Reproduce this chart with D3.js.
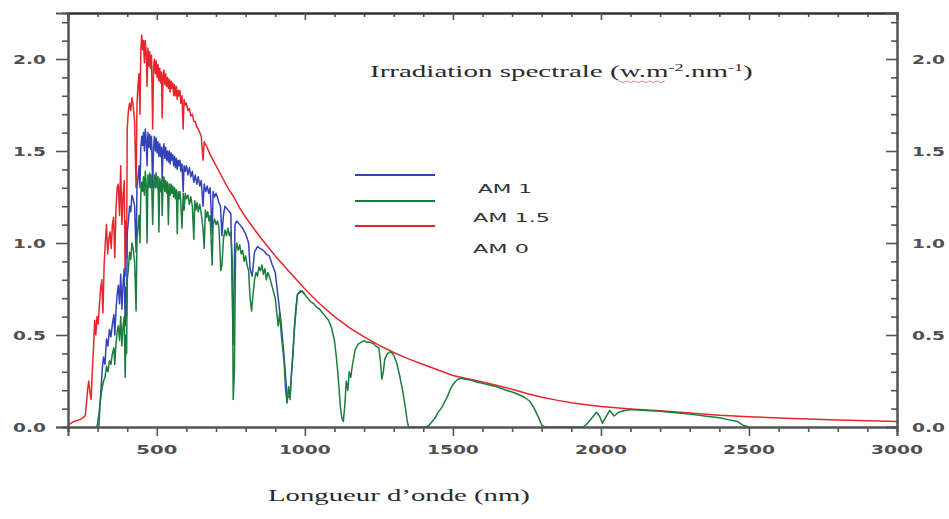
<!DOCTYPE html>
<html>
<head>
<meta charset="utf-8">
<script src="https://cdn.jsdelivr.net/npm/d3@7"></script>
<style>
  html, body { margin: 0; padding: 0; background: #fff; }
  svg { display: block; }
</style>
</head>
<body>
<svg id="chart" width="949" height="519"></svg>
<script>
// ---------------- DATA ----------------
const xMajorTicks = [500, 1000, 1500, 2000, 2500, 3000];
const yMajorTicks = [0, 0.5, 1.0, 1.5, 2.0];
const seriesNames = ["AM 1", "AM 1.5", "AM 0"];
const titleText = "Irradiation spectrale";
const xLabelText = "Longueur d\u2019onde (nm)";

// AM 0 (red) : [wavelength nm, irradiance W.m-2.nm-1]
const am0 = [
 [200,0.01],[220,0.03],[240,0.04],[250,0.05],[258,0.06],[262,0.12],[266,0.2],[270,0.25],[274,0.19],[278,0.15],
 [282,0.3],[286,0.42],[290,0.58],[294,0.5],[298,0.6],[302,0.56],[306,0.66],[310,0.75],[314,0.8],[318,0.62],
 [322,0.88],[326,1.0],[330,1.1],[334,0.94],[338,1.02],[342,1.06],[346,0.97],[350,1.1],[354,1.14],[358,0.92],
 [362,1.18],[366,1.3],[370,1.32],[374,1.15],[378,1.42],[382,1.1],[386,1.26],[390,1.34],[393,0.82],[396,1.12],
 [398,0.92],[400,1.62],[404,1.72],[408,1.76],[412,1.72],[416,1.79],[420,1.75],[425,1.66],[430,1.3],[433,1.75],
 [436,1.85],[440,1.92],[443,1.7],[446,2.05],[449,2.13],[452,2.05],[455,2.1],[458,1.98],[461,2.1],[464,2.04],
 [467,1.85],[470,2.06],[473,1.96],[476,2.04],[479,1.95],[482,2.02],[486,1.62],[489,1.96],[492,2.0],[495,1.92],
 [498,1.99],[501,1.9],[504,1.97],[507,1.88],[510,1.95],[513,1.87],[516,1.93],[518,1.68],[521,1.9],[524,1.94],
 [527,1.86],[530,1.92],[533,1.85],[536,1.9],[539,1.84],[542,1.89],[545,1.82],[548,1.88],[551,1.84],[554,1.87],
 [557,1.8],[560,1.86],[563,1.8],[566,1.85],[569,1.78],[572,1.83],[575,1.8],[578,1.83],[581,1.76],[585,1.8],
 [589,1.62],[592,1.78],[596,1.75],[600,1.76],[605,1.72],[610,1.73],[615,1.69],[620,1.7],[625,1.66],[630,1.66],
 [635,1.63],[640,1.62],[645,1.6],[650,1.58],[656,1.45],[660,1.55],[670,1.52],[680,1.48],[690,1.45],[700,1.42],
 [720,1.36],[740,1.3],[760,1.25],[780,1.19],[800,1.14],[850,1.03],[900,0.93],[950,0.84],[1000,0.75],[1050,0.67],
 [1100,0.6],[1150,0.54],[1200,0.49],[1250,0.445],[1300,0.405],[1350,0.37],[1400,0.34],[1450,0.31],[1500,0.28],[1550,0.262],
 [1600,0.244],[1650,0.225],[1700,0.205],[1750,0.182],[1800,0.162],[1850,0.146],[1900,0.132],[1950,0.121],[2000,0.111],[2100,0.098],
 [2200,0.088],[2300,0.076],[2400,0.064],[2500,0.056],[2600,0.049],[2700,0.043],[2800,0.038],[2900,0.034],[3000,0.03]
];

// AM 1 (blue)
const am1 = [
 [304,0.0],[308,0.12],[312,0.22],[316,0.32],[320,0.38],[325,0.34],[330,0.48],[335,0.44],[340,0.53],[345,0.49],
 [350,0.56],[355,0.61],[358,0.5],[362,0.63],[366,0.72],[370,0.77],[374,0.67],[378,0.83],[382,0.64],[386,0.78],
 [390,0.86],[393,0.55],[396,0.76],[398,0.6],[400,1.05],[404,1.12],[408,1.2],[412,1.17],[416,1.26],[420,1.24],
 [425,1.2],[430,0.95],[433,1.3],[436,1.35],[440,1.42],[443,1.3],[446,1.52],[449,1.58],[452,1.53],[455,1.6],
 [458,1.5],[461,1.62],[464,1.56],[467,1.42],[470,1.6],[473,1.52],[476,1.59],[479,1.51],[482,1.58],[486,1.3],
 [489,1.52],[492,1.58],[495,1.5],[498,1.57],[501,1.49],[504,1.55],[507,1.47],[510,1.54],[513,1.47],[516,1.52],
 [518,1.34],[521,1.5],[524,1.54],[527,1.46],[530,1.52],[533,1.45],[536,1.5],[539,1.44],[542,1.5],[545,1.43],
 [548,1.49],[551,1.45],[554,1.48],[557,1.42],[560,1.47],[563,1.41],[566,1.46],[569,1.4],[572,1.45],[575,1.42],
 [578,1.45],[581,1.39],[585,1.43],[589,1.28],[592,1.42],[596,1.39],[600,1.42],[605,1.37],[610,1.41],[615,1.36],
 [620,1.39],[625,1.33],[630,1.37],[635,1.32],[640,1.36],[645,1.31],[650,1.34],[656,1.2],[660,1.32],[665,1.28],
 [670,1.31],[675,1.27],[680,1.3],[687,1.05],[690,1.28],[695,1.25],[700,1.27],[710,1.22],[715,1.2],[720,1.04],
 [725,1.15],[730,1.2],[740,1.18],[750,1.16],[758,0.45],[764,1.1],[770,1.12],[780,1.1],[790,1.08],[800,1.05],
 [810,1.0],[815,0.86],[822,0.82],[830,0.95],[840,0.98],[850,0.97],[860,0.96],[870,0.94],[880,0.93],[890,0.88],
 [900,0.84],[910,0.7],[920,0.56],[930,0.38],[940,0.16],[950,0.17],[958,0.36],[966,0.56],[975,0.72],[990,0.74],
 [1000,0.72]
];

// AM 1.5 (green)
const am15 = [
 [297,0.0],[300,0.02],[305,0.08],[310,0.15],[315,0.21],[320,0.25],[325,0.27],[330,0.33],[335,0.3],[340,0.36],
 [345,0.34],[350,0.4],[355,0.43],[358,0.34],[362,0.45],[366,0.52],[370,0.55],[374,0.47],[378,0.6],[382,0.44],
 [386,0.55],[390,0.6],[393,0.27],[396,0.5],[398,0.4],[400,0.8],[404,0.86],[408,0.95],[412,0.91],[416,1.0],
 [420,0.97],[425,0.9],[430,0.63],[433,1.02],[436,1.08],[440,1.15],[443,1.0],[446,1.27],[449,1.33],[452,1.28],
 [455,1.36],[458,1.26],[461,1.39],[464,1.32],[467,1.0],[470,1.37],[473,1.3],[476,1.38],[479,1.3],[482,1.37],
 [486,1.1],[489,1.3],[492,1.37],[495,1.3],[498,1.38],[501,1.3],[504,1.36],[507,1.06],[510,1.35],[513,1.28],
 [516,1.34],[518,1.15],[521,1.32],[524,1.36],[527,1.28],[530,1.34],[533,1.27],[536,1.33],[539,1.1],[542,1.32],
 [545,1.26],[548,1.32],[551,1.27],[554,1.31],[557,1.25],[560,1.3],[563,1.24],[566,1.29],[569,1.05],[572,1.28],
 [575,1.24],[578,1.28],[581,1.22],[585,1.08],[589,1.27],[592,1.18],[596,1.27],[600,1.24],[605,1.26],[610,1.21],
 [615,1.25],[620,1.2],[625,1.02],[628,1.23],[632,1.18],[636,1.22],[640,1.17],[645,1.21],[650,1.16],[656,1.08],
 [660,0.97],[664,1.18],[668,1.14],[672,1.17],[676,1.12],[680,1.15],[687,0.88],[690,1.1],[695,1.13],[700,1.1],
 [705,1.12],[710,1.08],[716,0.85],[720,0.88],[725,1.02],[730,1.07],[735,1.04],[740,1.08],[745,1.04],[750,1.06],
 [755,0.9],[758,0.15],[762,0.3],[766,0.95],[770,1.0],[775,0.96],[780,0.99],[785,0.94],[790,0.96],[795,0.9],
 [800,0.93],[805,0.88],[810,0.85],[815,0.7],[820,0.63],[825,0.72],[830,0.8],[835,0.84],[840,0.82],[845,0.87],
 [850,0.85],[855,0.88],[860,0.83],[865,0.86],[870,0.8],[875,0.84],[880,0.82],[885,0.79],[890,0.76],[900,0.7],
 [910,0.55],[915,0.62],[920,0.51],[930,0.35],[935,0.2],[940,0.13],[945,0.22],[950,0.15],[955,0.3],[960,0.4],
 [965,0.55],[970,0.65],[975,0.72],[985,0.74],[995,0.73],[1000,0.72],[1010,0.7],[1020,0.68],[1030,0.67],[1040,0.65],
 [1050,0.64],[1060,0.62],[1070,0.6],[1080,0.58],[1090,0.54],[1100,0.47],[1105,0.4],[1110,0.32],[1115,0.22],[1120,0.11],
 [1125,0.05],[1130,0.03],[1135,0.12],[1140,0.25],[1145,0.2],[1150,0.3],[1155,0.27],[1160,0.33],[1170,0.42],[1180,0.45],
 [1190,0.46],[1200,0.47],[1210,0.46],[1220,0.46],[1230,0.455],[1240,0.44],[1250,0.43],[1255,0.36],[1260,0.26],[1265,0.3],
 [1270,0.37],[1280,0.4],[1290,0.41],[1300,0.39],[1310,0.35],[1320,0.28],[1330,0.2],[1340,0.1],[1345,0.04],[1350,0.0],
 [1410,0.0],[1420,0.01],[1430,0.03],[1440,0.05],[1450,0.08],[1460,0.1],[1470,0.13],[1480,0.16],[1490,0.2],[1500,0.23],
 [1510,0.25],[1520,0.262],[1530,0.265],[1540,0.26],[1560,0.255],[1580,0.245],[1600,0.237],[1620,0.23],[1640,0.222],[1660,0.212],
 [1680,0.2],[1700,0.19],[1720,0.178],[1740,0.163],[1760,0.14],[1775,0.1],[1790,0.05],[1800,0.01],[1810,0.0],[1940,0.0],
 [1955,0.02],[1970,0.05],[1985,0.08],[1995,0.06],[2005,0.02],[2015,0.05],[2030,0.09],[2045,0.06],[2060,0.08],[2080,0.09],
 [2100,0.095],[2150,0.09],[2200,0.085],[2250,0.078],[2300,0.07],[2350,0.06],[2400,0.05],[2430,0.04],[2460,0.03],[2480,0.01],
 [2500,0.0]
];

// ---------------- CHART ----------------
const svg = d3.select("#chart");
const L = 68, R = 897, T = 13, B = 427;
const x = d3.scaleLinear().domain([200, 3000]).range([L, R]);
const y = d3.scaleLinear().domain([0, 2.25]).range([B, T]);
const axisColor = "#555";
const labelColor = "#4f4f4f";

const xMinor = d3.range(200, 3001, 100).filter(v => !xMajorTicks.includes(v));
const yMinor = d3.range(0, 23).map(i => +(i / 10).toFixed(1)).filter(v => !yMajorTicks.some(m => Math.abs(m - v) < 1e-9));

function styleAxis(g) {
  g.select(".domain").attr("stroke", axisColor).attr("stroke-width", 2);
  g.selectAll(".tick line").attr("stroke", axisColor).attr("stroke-width", 1.6);
  g.selectAll("text").remove();
}

const line = d3.line().x(d => x(d[0])).y(d => y(d[1]));
const colors = { am1: "#3442b8", am15: "#1b7d3c", am0: "#e6262b" };
svg.append("path").datum(am0).attr("d", line).attr("fill", "none").attr("stroke", colors.am0).attr("stroke-width", 1.5).attr("stroke-linejoin", "round");
svg.append("path").datum(am1).attr("d", line).attr("fill", "none").attr("stroke", colors.am1).attr("stroke-width", 1.5).attr("stroke-linejoin", "round");
svg.append("path").datum(am15).attr("d", line).attr("fill", "none").attr("stroke", colors.am15).attr("stroke-width", 1.5).attr("stroke-linejoin", "round");

// bottom axis
svg.append("g").attr("transform", `translate(0,${B})`)
  .call(d3.axisBottom(x).tickValues(xMinor).tickSize(5)).call(styleAxis);
svg.append("g").attr("transform", `translate(0,${B})`)
  .call(d3.axisBottom(x).tickValues(xMajorTicks).tickSize(9)).call(styleAxis);
// top axis (ticks inward)
const topMinor = svg.append("g").attr("transform", `translate(0,${T})`)
  .call(d3.axisBottom(x).tickValues(xMinor).tickSize(4)).call(styleAxis);
const topMajor = svg.append("g").attr("transform", `translate(0,${T})`)
  .call(d3.axisBottom(x).tickValues(xMajorTicks).tickSize(7)).call(styleAxis);
topMinor.select(".domain").attr("stroke", "#333");
topMajor.select(".domain").attr("stroke", "#333");
// left axis
svg.append("g").attr("transform", `translate(${L},0)`)
  .call(d3.axisLeft(y).tickValues(yMinor).tickSize(6)).call(styleAxis);
svg.append("g").attr("transform", `translate(${L},0)`)
  .call(d3.axisLeft(y).tickValues(yMajorTicks).tickSize(12)).call(styleAxis);
// right axis (ticks inward)
svg.append("g").attr("transform", `translate(${R},0)`)
  .call(d3.axisLeft(y).tickValues(yMinor).tickSize(6)).call(styleAxis);
svg.append("g").attr("transform", `translate(${R},0)`)
  .call(d3.axisLeft(y).tickValues(yMajorTicks).tickSize(11)).call(styleAxis);

// helper: stretched text (source image is horizontally stretched)
function stretchedText(parent, str, px, py, targetW, anchor, attrs) {
  const t = parent.append("text").attr("x", 0).attr("y", 0).text(str);
  Object.entries(attrs).forEach(([k, v]) => t.style(k, v));
  const w = t.node().getComputedTextLength();
  const s = targetW / w;
  t.attr("text-anchor", anchor).attr("transform", `translate(${px},${py}) scale(${s},1)`);
  return t;
}
const tickFont = { "font-family": "DejaVu Sans, Verdana, sans-serif", "font-size": "12.5px", "font-weight": "bold", "fill": labelColor };

// y tick labels (left & right)
yMajorTicks.forEach(v => {
  stretchedText(svg, d3.format(".1f")(v), 46, y(v) + 5, 33, "end", tickFont);
  stretchedText(svg, d3.format(".1f")(v), 912, y(v) + 5, 33, "start", tickFont);
});
// x tick labels
xMajorTicks.forEach(v => {
  const s = String(v);
  stretchedText(svg, s, x(v), 454, s.length === 3 ? 41 : 52, "middle", tickFont);
});

// title
const serif = { "font-family": "Liberation Serif, Times New Roman, serif", "font-size": "16px", "fill": "#2a2a2a" };
const title = svg.append("text").attr("x", 0).attr("y", 0);
Object.entries(serif).forEach(([k, v]) => title.style(k, v));
title.append("tspan").text(titleText + " (w.m");
title.append("tspan").attr("dy", -6).style("font-size", "10px").text("-2");
title.append("tspan").attr("dy", 6).text(".nm");
title.append("tspan").attr("dy", -6).style("font-size", "10px").text("-1");
title.append("tspan").attr("dy", 6).text(")");
{
  const w = title.node().getBBox().width;
  title.attr("transform", `translate(370,77) scale(${383 / w},1)`);
}
// red spell-check squiggle under "w.m"
{
  const pts = d3.range(0, 13).map(i => [619 + i * 3.8, 81 + (i % 2 ? 1.5 : 0)]);
  svg.append("path").attr("d", d3.line()(pts)).attr("fill", "none").attr("stroke", "#d04040").attr("stroke-width", 0.8).attr("opacity", 0.8);
}

// x axis label
stretchedText(svg, xLabelText, 268, 501, 262, "start", serif);

// legend
const legendColors = [colors.am1, colors.am15, colors.am0];
const legendLineY = [175, 201, 226];
const legendTextPos = [[478, 193, 54], [473, 222, 77], [473, 253, 56]];
const legFont = { "font-family": "DejaVu Sans, Verdana, sans-serif", "font-size": "13px", "fill": "#333" };
seriesNames.forEach((n, i) => {
  svg.append("line").attr("x1", 355).attr("x2", 435).attr("y1", legendLineY[i]).attr("y2", legendLineY[i])
    .attr("stroke", legendColors[i]).attr("stroke-width", 2);
  stretchedText(svg, n, legendTextPos[i][0], legendTextPos[i][1], legendTextPos[i][2], "start", legFont);
});
</script>
</body>
</html>
